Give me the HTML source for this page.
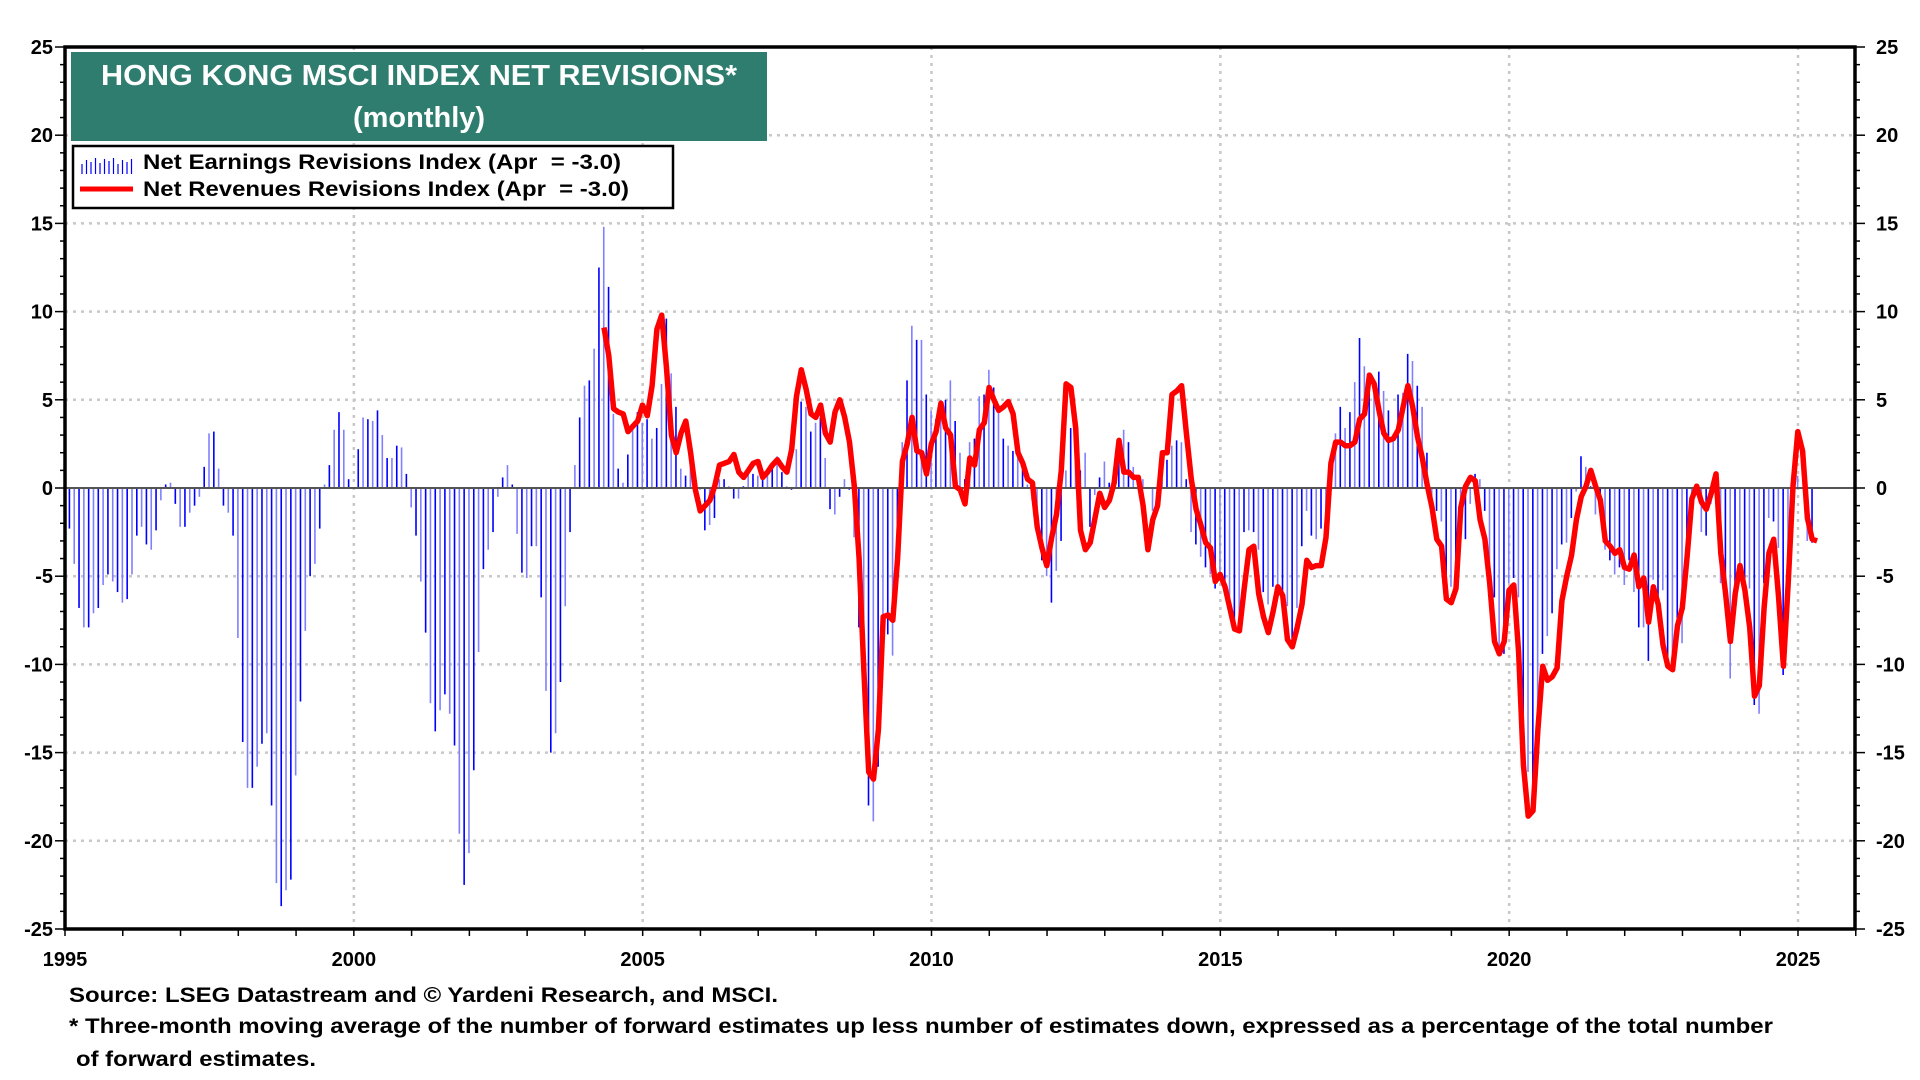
<!DOCTYPE html>
<html><head><meta charset="utf-8"><style>
html,body{margin:0;padding:0;background:#fff;}
svg{display:block;font-family:"Liberation Sans",Arial,sans-serif;font-weight:bold;}
</style></head><body>
<svg id="chart" width="1920" height="1080" viewBox="0 0 1920 1080" xmlns="http://www.w3.org/2000/svg">
<rect x="0" y="0" width="1920" height="1080" fill="#fff"/>
<g id="grid"></g>
<g id="bars"></g>
<line id="zero" stroke="#555" stroke-width="2"/>
<path id="rev" fill="none" stroke="#ff0000" stroke-width="5.5" stroke-linejoin="round"/>
<rect x="65" y="47" width="1790" height="882" fill="none" stroke="#000" stroke-width="3.5"/>
<g id="axes"></g>
<g>
<rect x="71" y="52" width="696" height="89" fill="#2e7d6f"/>
<text x="419" y="85" text-anchor="middle" fill="#fff" font-size="29" textLength="636" lengthAdjust="spacingAndGlyphs">HONG KONG MSCI INDEX NET REVISIONS*</text>
<text x="419" y="127" text-anchor="middle" fill="#fff" font-size="29">(monthly)</text>
</g>
<g>
<rect x="73" y="146" width="600" height="62" fill="#fff" stroke="#000" stroke-width="2.5"/>
<g>
<g id="legbars" stroke="#0000ff" stroke-width="1.2"></g>
<text x="143" y="169" font-size="21" textLength="478" lengthAdjust="spacingAndGlyphs" xml:space="preserve">Net Earnings Revisions Index (Apr  = -3.0)</text>
</g>
<g>
<line x1="80" y1="189" x2="133" y2="189" stroke="#ff0000" stroke-width="5"/>
<text x="143" y="196" font-size="21" textLength="486" lengthAdjust="spacingAndGlyphs" xml:space="preserve">Net Revenues Revisions Index (Apr  = -3.0)</text>
</g>
</g>
<g font-size="21">
<text x="69" y="1002" textLength="709" lengthAdjust="spacingAndGlyphs">Source: LSEG Datastream and © Yardeni Research, and MSCI.</text>
<text x="69" y="1033" textLength="1704" lengthAdjust="spacingAndGlyphs">* Three-month moving average of the number of forward estimates up less number of estimates down, expressed as a percentage of the total number</text>
<text x="76" y="1066" textLength="240" lengthAdjust="spacingAndGlyphs">of forward estimates.</text>
</g>
</svg>
<script>
const yTicks=[25,20,15,10,5,0,-5,-10,-15,-20,-25];
const xTickLabels=[1995,2000,2005,2010,2015,2020,2025];
const earningsStart=1995.0;
const earnings=[
-2.3,-4.3,-6.8,-7.9,-7.9,-7.1,-6.8,-5.5,-4.9,-5.3,-5.9,-6.5,
-6.3,-4.9,-2.7,-2.2,-3.2,-3.5,-2.4,-0.7,0.2,0.3,-0.9,-2.2,
-2.2,-1.4,-1,-0.5,1.2,3.1,3.2,1.1,-1,-1.4,-2.7,-8.5,
-14.4,-17,-17,-15.8,-14.5,-13.9,-18,-22.4,-23.7,-22.8,-22.2,-16.3,
-12.1,-8.1,-5,-4.3,-2.3,0.2,1.3,3.3,4.3,3.3,0.5,0,
2.2,4,3.9,3.8,4.4,3,1.7,1.7,2.4,2.3,0.8,-1.1,
-2.7,-5.3,-8.2,-12.2,-13.8,-12.6,-11.7,-12.8,-14.6,-19.6,-22.5,-20.7,
-16,-9.3,-4.6,-3.5,-2.5,-0.5,0.6,1.3,0.2,-2.6,-4.8,-5.1,
-3.3,-3.3,-6.2,-11.5,-15,-13.9,-11,-6.7,-2.5,1.3,4,5.8,
6.1,7.9,12.5,14.8,11.4,4.2,1.1,0.3,1.9,3.3,4.3,3.7,
3.9,2.8,3.4,5.9,9.6,6.5,4.6,1.1,0.7,1.3,0.7,-0.1,
-2.4,-2.1,-1.7,0.5,0.5,0.1,-0.6,-0.6,0.1,0.8,0.8,0.7,
0.6,0.9,1.3,1.8,0.9,0.1,-0.1,2.2,4.9,4.6,3.2,3.7,
4.0,1.7,-1.2,-1.5,-0.5,0.5,-0.1,-2.8,-7.9,-11.8,-18.0,-18.9,
-15.8,-7.8,-8.3,-9.5,-4.7,2.6,6.1,9.2,8.4,8.4,5.3,4.4,
3.9,5.0,5.0,6.1,3.8,2.0,0.5,2.6,2.8,5.2,5.3,6.7,
5.7,4.6,2.8,2.4,2.1,1.8,1.1,0.2,-0.7,-1.3,-4.1,-5.0,-6.5,
-4.7,-3.0,1.0,3.4,3.4,1.0,2.0,-2.2,-0.4,0.6,1.5,0.3,
0.7,2.0,3.3,2.6,1.2,0.6,0.5,0,-1.3,0,0.5,1.6,
2.4,2.7,2.6,0.5,-2.5,-3.2,-3.9,-4.5,-4.9,-5.7,-4.8,-5.6,
-7.1,-7.7,-8.1,-2.5,-2.4,-2.5,-3.5,-5.9,-6.6,-5.6,-5.9,-6.2,
-6.7,-8.6,-6.8,-3.3,-1.3,-2.7,-2.9,-2.3,-2.6,0.1,3.1,4.6,
3.4,4.3,6.0,8.5,6.9,6.3,5.6,6.6,5.5,4.4,3.0,5.3,
5.4,7.6,7.2,5.8,4.6,2.0,-0.6,-1.3,-1.9,-6.1,-5.6,-4.7,
-1.5,-2.9,-0.9,0.8,0.5,-1.3,-4.5,-6.2,-9.3,-9.4,-5.4,-5.1,
-6.2,-13.7,-16.1,-17.5,-15.3,-9.4,-8.4,-7.1,-4.6,-3.2,-3.1,-1.7,
-0.2,1.8,1.2,0.1,-1.5,-0.3,-3.5,-4.1,-4.9,-4.5,-5.5,-4.1,
-5.9,-7.9,-7.9,-9.8,-5.2,-6.8,-5.8,-9.8,-10.3,-7.4,-8.8,-3.5,
-0.7,0.1,-2.5,-2.7,-0.9,0.7,-5.4,-6.6,-10.8,-5.5,-4.7,-5.2,
-5.7,-12.3,-12.8,-5.4,-1.7,-1.9,-3.4,-10.6,-5.4,-0.1,0.7,0,
-3.0,-3.1];
const revenuesStart=2004.33;
const revenues=[
9.1,7.5,4.5,4.3,4.2,3.2,3.5,3.8,4.7,4.1,5.8,9.0,9.8,6.8,3.0,2.0,3.1,3.8,2.0,-0.1,
-1.3,-1.0,-0.7,0.1,1.3,1.4,1.5,1.9,0.9,0.6,1.0,1.4,1.5,0.6,0.9,1.3,1.6,1.2,0.9,2.2,5.2,
6.7,5.6,4.2,4.0,4.7,3.1,2.6,4.3,5.0,4.0,2.6,0.1,-4.0,-10.4,-16.1,-16.5,-13.7,-7.3,-7.2,-7.5,
-4.0,1.5,2.5,4.0,2.1,2.0,0.8,2.5,3.2,4.8,3.4,3.0,0.1,-0.1,-0.9,1.7,1.3,3.3,3.7,5.7,
5.0,4.4,4.6,4.9,4.2,2.0,1.4,0.5,0.3,-2.2,-3.4,-4.4,-2.8,-1.5,1.0,5.9,5.7,3.4,-2.4,-3.5,-3.1,
-1.7,-0.3,-1.1,-0.7,0.3,2.7,0.9,0.9,0.6,0.6,-1.0,-3.5,-1.8,-1.0,2.0,2.0,5.3,5.5,5.8,
3.1,0.5,-1.2,-2.1,-3.1,-3.4,-5.3,-4.9,-5.6,-6.8,-8.0,-8.1,-5.7,-3.5,-3.3,-6.0,-7.3,-8.2,-7.0,-5.6,
-6.1,-8.6,-9.0,-7.9,-6.6,-4.1,-4.5,-4.4,-4.4,-2.8,1.4,2.6,2.6,2.4,2.4,2.6,3.9,4.2,6.4,5.9,
4.4,3.1,2.7,2.8,3.3,4.6,5.8,4.6,2.9,1.7,0.2,-1.1,-2.9,-3.3,-6.3,-6.5,-5.7,-1.1,0.1,0.6,
0.4,-1.8,-2.9,-5.4,-8.7,-9.4,-8.7,-5.8,-5.5,-9.3,-15.7,-18.6,-18.3,-13.7,-10.1,-10.9,-10.7,-10.2,-6.4,-5.0,
-3.8,-1.8,-0.5,0.1,1.0,0.1,-0.7,-3.0,-3.3,-3.7,-3.5,-4.5,-4.6,-3.8,-5.6,-5.1,-7.6,-5.6,-6.6,-8.9,
-10.1,-10.3,-7.8,-6.8,-3.9,-0.6,0.1,-0.8,-1.2,-0.3,0.8,-3.7,-6.0,-8.7,-6.0,-4.4,-5.8,-7.9,-11.8,-11.2,
-6.8,-3.7,-2.9,-6.2,-10.1,-5.4,0.1,3.2,2.1,-1.7,-2.9,-3.0];

const L=65,R=1855,T=47,B=929,X0=1995,X1=2025,XP1=1798;
const sx=y=>L+(y-X0)*(XP1-L)/(X1-X0);
const sy=v=>T+(25-v)*(B-T)/50;
const NS="http://www.w3.org/2000/svg";
function mk(tag,attrs,parent){const e=document.createElementNS(NS,tag);for(const k in attrs)e.setAttribute(k,attrs[k]);parent.appendChild(e);return e;}
const grid=document.getElementById('grid'),axes=document.getElementById('axes'),bars=document.getElementById('bars');
yTicks.forEach(v=>{
  if(v!==25&&v!==-25&&v!==0){const g=mk('line',{x1:L,x2:R,y1:sy(v),y2:sy(v),stroke:'#c8c8c8','stroke-width':2.5,'stroke-dasharray':'3,5'},grid);
  
  }
  const tl=mk('text',{x:L-12,y:sy(v)+7,'text-anchor':'end','font-size':20},axes);tl.textContent=v;
  
  
  const tr=mk('text',{x:R+21,y:sy(v)+7,'text-anchor':'start','font-size':20},axes);tr.textContent=v;
  
  
});
for(let v=-25;v<=25;v++){const len=(v%5===0)?10:5;
  mk('line',{x1:L-len,x2:L,y1:sy(v),y2:sy(v),stroke:'#000','stroke-width':1.5},axes);
  mk('line',{x1:R,x2:R+len,y1:sy(v),y2:sy(v),stroke:'#000','stroke-width':1.5},axes);}
for(let y=1995;y<=2026;y++){mk('line',{x1:sx(y),x2:sx(y),y1:B,y2:B+7,stroke:'#000','stroke-width':1.5},axes);}
xTickLabels.forEach(y=>{
  if(y!==1995){const g=mk('line',{x1:sx(y),x2:sx(y),y1:T,y2:B,stroke:'#c8c8c8','stroke-width':2.5,'stroke-dasharray':'3,5'},grid);
  
  }
  const t=mk('text',{x:sx(y),y:966,'text-anchor':'middle','font-size':20},axes);t.textContent=y;
  
  
});
const z=document.getElementById('zero');z.setAttribute('x1',L);z.setAttribute('x2',R);z.setAttribute('y1',sy(0));z.setAttribute('y2',sy(0));
earnings.forEach((v,i)=>{const x=sx(earningsStart+i/12+1/24)+2;
  const b=mk('line',{x1:x,x2:x,y1:sy(0),y2:sy(v),stroke:(i%2?'#8080ff':'#0000ff'),'stroke-width':1.6},bars);
  
  });
document.getElementById('rev').setAttribute('d',revenues.map((v,i)=>(i?'L':'M')+sx(revenuesStart+i/12).toFixed(1)+','+sy(v).toFixed(1)).join(''));
const lb=document.getElementById('legbars');
for(let i=0;i<12;i++){const h=[10,14,12,16,11,15,13,16,10,14,12,15][i];mk('line',{x1:82+i*4.5,x2:82+i*4.5,y1:174-h,y2:174},lb);}
</script>
</body></html>
